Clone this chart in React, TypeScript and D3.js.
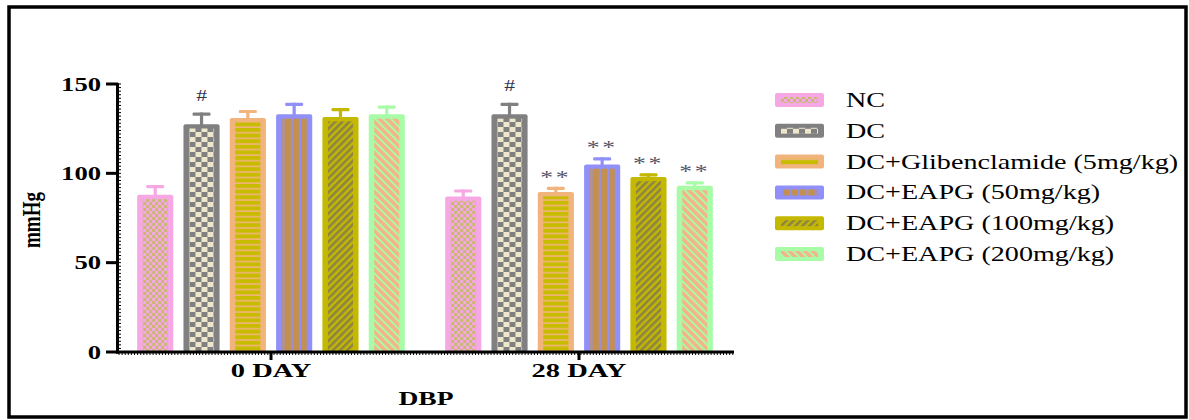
import React from 'react';
import * as d3 from 'd3';

const groups = ['0 DAY', '28 DAY'];
const series = [
  'NC',
  'DC',
  'DC+Glibenclamide (5mg/kg)',
  'DC+EAPG (50mg/kg)',
  'DC+EAPG (100mg/kg)',
  'DC+EAPG (200mg/kg)',
];
const day0Means = [88, 127.5, 131, 133, 131.5, 133];
const day0Errs = [5.5, 6.5, 4.5, 6.5, 5, 5];
const day28Means = [87, 133, 89.5, 105, 98, 93];
const day28Errs = [4, 6.5, 3, 4, 2, 2.5];
const day0Marks = ['', '#', '', '', '', ''];
const day28Marks = ['', '#', '**', '**', '**', '**'];
const yTicks = [0, 50, 100, 150];

// border colour per series (pattern id p0..p5 in the same order)
const borderColors = ['#f5a8e4', '#808080', '#f0b47c', '#9090f8', '#c4b800', '#a8fca8'];

const W = 1189;
const H = 420;

const y = d3.scaleLinear().domain([0, 150]).range([352, 84]);
const x0 = d3.scaleBand().domain(groups).range([117, 733]);
const x1 = d3
  .scaleBand()
  .domain(series)
  .range([0, x0.bandwidth()])
  .paddingInner(0.22)
  .paddingOuter(0.435);

const serif = '"Liberation Serif", "Times New Roman", serif';

const Patterns = () => (
  <defs>
    <pattern id="p0" width="6" height="6" patternUnits="userSpaceOnUse">
      <rect width="6" height="6" fill="#f5a8e4" />
      <rect x="0" y="0" width="3" height="3" fill="#c8b872" />
      <rect x="3" y="3" width="3" height="3" fill="#c8b872" />
    </pattern>
    <pattern id="p1" width="12" height="10" patternUnits="userSpaceOnUse">
      <rect width="12" height="10" fill="#808080" />
      <rect x="0" y="0" width="6" height="5" fill="#efe7cc" />
      <rect x="6" y="5" width="6" height="5" fill="#efe7cc" />
    </pattern>
    <pattern id="p2" width="6" height="5.6" patternUnits="userSpaceOnUse">
      <rect width="6" height="5.6" fill="#f0b47c" />
      <rect x="0" y="0" width="6" height="4" fill="#c8bc00" />
    </pattern>
    <pattern id="p3" width="8.3" height="6" patternUnits="userSpaceOnUse">
      <rect width="8.3" height="6" fill="#9090f8" />
      <rect x="0" y="0" width="6.6" height="6" fill="#c49050" />
    </pattern>
    <pattern id="p4" width="5" height="5" patternUnits="userSpaceOnUse" patternTransform="rotate(45)">
      <rect width="5" height="5" fill="#c4b800" />
      <rect x="0" y="0" width="2.6" height="5" fill="#8c8444" />
    </pattern>
    <pattern id="p5" width="5.5" height="5.5" patternUnits="userSpaceOnUse" patternTransform="rotate(-45)">
      <rect width="5.5" height="5.5" fill="#a8fca8" />
      <rect x="0" y="0" width="3.6" height="5.5" fill="#f4b488" />
    </pattern>
  </defs>
);

const Bar = ({ gx, i, mean, err, mark }) => {
  const bx = gx + x1(series[i]);
  const bw = x1.bandwidth();
  const top = y(mean);
  const bottom = y(0);
  const eTop = y(mean + err);
  const c = borderColors[i];
  const cx = bx + bw / 2;
  return (
    <g>
      <rect x={cx - 1.6} y={eTop} width={3.2} height={top - eTop + 2} fill={c} />
      <rect x={cx - 9} y={eTop} width={18} height={3.2} rx={1.2} fill={c} />
      <rect x={bx} y={top} width={bw} height={bottom - top} rx={2} fill={c} />
      <g transform={`translate(${bx},${bottom})`}>
        <rect x={5.5} y={top - bottom + 4.3} width={bw - 11} height={bottom - top - 4.3} fill={`url(#p${i})`} />
      </g>
      {mark && (
        <text
          transform={`translate(${cx},${eTop - (mark === '#' ? 12 : 3)}) scale(1.35,1)`}
          textAnchor="middle"
          fontFamily={serif}
          fontSize={mark === '#' ? 16 : 19}
          letterSpacing={mark === '#' ? 0 : 2}
          fill={mark === '#' ? '#33334d' : '#55556a'}
        >
          {mark}
        </text>
      )}
    </g>
  );
};

export default function App() {
  const data = [
    { g: groups[0], means: day0Means, errs: day0Errs, marks: day0Marks },
    { g: groups[1], means: day28Means, errs: day28Errs, marks: day28Marks },
  ];
  const minorY = d3.range(0, 151, 2);
  const minorX = d3.range(119, 733, 3.1);
  const legendY = (i: number) => 100 + i * 30.8;

  return (
    <svg
      width={W}
      height={H}
      style={{ position: 'absolute', left: 0, top: 0, display: 'block', background: '#fff' }}
    >
      <Patterns />
      <rect x={9} y={7} width={1177} height={410} fill="none" stroke="#000" strokeWidth={3.5} />

      {data.map((d) =>
        d.means.map((m, i) => (
          <Bar key={d.g + i} gx={x0(d.g)} i={i} mean={m} err={d.errs[i]} mark={d.marks[i]} />
        ))
      )}

      {/* y axis */}
      <line x1={117.5} x2={117.5} y1={y(150) - 1} y2={y(0) + 1.5} stroke="#000" strokeWidth={3} />
      {minorY.map((v) => (
        <line key={'my' + v} x1={117} x2={121} y1={y(v)} y2={y(v)} stroke="#000" strokeWidth={1} />
      ))}
      {yTicks.map((v) => (
        <g key={'yt' + v}>
          <line x1={106} x2={118} y1={y(v)} y2={y(v)} stroke="#000" strokeWidth={3} />
          <text
            transform={`translate(${101},${y(v) + 6.5}) scale(1.48,1)`}
            textAnchor="end"
            fontFamily={serif}
            fontWeight="bold"
            fontSize={18}
          >
            {v}
          </text>
        </g>
      ))}

      {/* x axis */}
      <line x1={116} x2={734} y1={352} y2={352} stroke="#000" strokeWidth={3} />
      {minorX.map((v) => (
        <line key={'mx' + v} x1={v} x2={v} y1={352} y2={355} stroke="#000" strokeWidth={1} />
      ))}
      {groups.map((g) => {
        const cx = (x0(g) as number) + x0.bandwidth() / 2;
        return (
          <g key={'xt' + g}>
            <line x1={cx} x2={cx} y1={351} y2={360} stroke="#000" strokeWidth={3} />
            <text
              transform={`translate(${cx},${376.7}) scale(1.5,1)`}
              textAnchor="middle"
              fontFamily={serif}
              fontWeight="bold"
              fontSize={19}
            >
              {g}
            </text>
          </g>
        );
      })}
      <text
        transform={`translate(426,405) scale(1.45,1)`}
        textAnchor="middle"
        fontFamily={serif}
        fontWeight="bold"
        fontSize={19}
      >
        DBP
      </text>
      <text
        transform={`translate(40,220) scale(1.35,1) rotate(-90)`}
        textAnchor="middle"
        fontFamily={serif}
        fontWeight="bold"
        fontSize={19}
      >
        mmHg
      </text>

      {/* legend */}
      {series.map((s, i) => {
        const cy = legendY(i);
        return (
          <g key={'lg' + s}>
            <rect x={775} y={cy - 7} width={49} height={14} rx={2} fill={borderColors[i]} />
            <g transform={`translate(775,${cy - 7})`}>
              <rect x={6} y={4} width={37} height={6} fill={`url(#p${i})`} />
            </g>
            <text
              transform={`translate(846,${cy + 7}) scale(1.34,1)`}
              fontFamily={serif}
              fontSize={21}
            >
              {s}
            </text>
          </g>
        );
      })}
    </svg>
  );
}
